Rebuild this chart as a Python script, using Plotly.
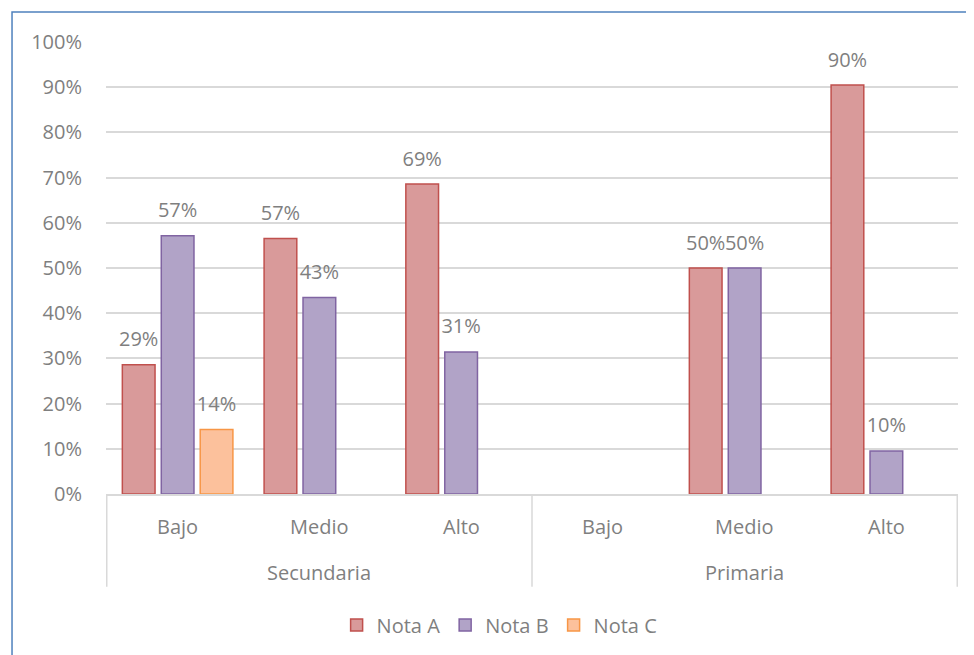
import plotly.graph_objects as go

niveles = ["Secundaria", "Secundaria", "Secundaria", "Primaria", "Primaria", "Primaria"]
grupos = ["Bajo", "Medio", "Alto", "Bajo", "Medio", "Alto"]

nota_a = [0.2857, 0.5652, 0.6857, None, 0.50, 0.9048]
nota_b = [0.5714, 0.4348, 0.3143, None, 0.50, 0.0952]
nota_c = [0.1429, None, None, None, None, None]

series = [
    ("Nota A", nota_a, "#d99a9a", "#c0504d"),
    ("Nota B", nota_b, "#b1a3c7", "#8064a2"),
    ("Nota C", nota_c, "#fcc19c", "#f79646"),
]

GRIS = "#7f7f7f"
LINEA = "#d9d9d9"
FUENTE = "Open Sans, Liberation Sans, sans-serif"
TAM = 20


def etiquetas(valores):
    return [None if v is None else f"{v * 100:.0f}%" for v in valores]


def create_bar_chart():
    fig = go.Figure()
    x = [niveles, grupos]
    for nombre, valores, relleno, borde in series:
        fig.add_trace(go.Bar(
            name=nombre, x=x, y=valores,
            marker=dict(color=relleno, line=dict(color=borde, width=1.5)),
        ))
    # etiquetas de datos, agrupadas igual que las barras
    for nombre, valores, relleno, borde in series:
        fig.add_trace(go.Scatter(
            x=x, y=valores, mode="markers+text",
            text=etiquetas(valores), textposition="top center",
            textfont=dict(color=GRIS, size=TAM),
            marker=dict(size=20, opacity=0),
            showlegend=False, hoverinfo="skip", cliponaxis=False,
        ))

    fig.update_layout(
        width=966, height=647,
        margin=dict(l=98, r=16, t=34, b=160),
        paper_bgcolor="white", plot_bgcolor="white",
        font=dict(family=FUENTE, size=TAM, color=GRIS),
        barmode="group", bargap=0.176, bargroupgap=0.16,
        scattermode="group", scattergap=0.176,
        legend=dict(orientation="h", x=0.462, xanchor="center", y=-0.244, yanchor="top",
                    font=dict(size=TAM, color=GRIS)),
    )
    fig.update_yaxes(
        range=[0, 1.0], dtick=0.1, tickformat=".0%",
        showgrid=True, gridcolor=LINEA, gridwidth=1.5,
        zeroline=False, showline=False, ticks="", ticklabelstandoff=23,
    )
    fig.update_xaxes(
        showline=True, linecolor=LINEA, linewidth=1.5,
        showticklabels=False, showdividers=False, ticks="",
    )

    # etiquetas del eje en dos niveles y separadores
    for i, g in enumerate(grupos):
        fig.add_annotation(x=i, y=0, xref="x", yref="paper", text=g, showarrow=False,
                           yshift=-32, yanchor="middle", font=dict(size=TAM, color=GRIS))
    for centro, nivel in [(1, "Secundaria"), (4, "Primaria")]:
        fig.add_annotation(x=centro, y=0, xref="x", yref="paper", text=nivel, showarrow=False,
                           yshift=-78, yanchor="middle", font=dict(size=TAM, color=GRIS))
    for borde in [-0.5, 2.5, 5.5]:
        fig.add_shape(type="line", xref="x", yref="paper", x0=borde, x1=borde,
                      y0=0, y1=-0.205, line=dict(color=LINEA, width=1.5))

    # marco exterior del gráfico
    fig.add_shape(type="rect", xref="paper", yref="paper",
                  x0=-0.1103, x1=1.03, y0=-0.40, y1=1.0662,
                  line=dict(color="#4f81bd", width=1.5), layer="below")
    return fig


def main():
    fig = create_bar_chart()
    fig.write_html("out.html")


if __name__ == "__main__":
    main()
